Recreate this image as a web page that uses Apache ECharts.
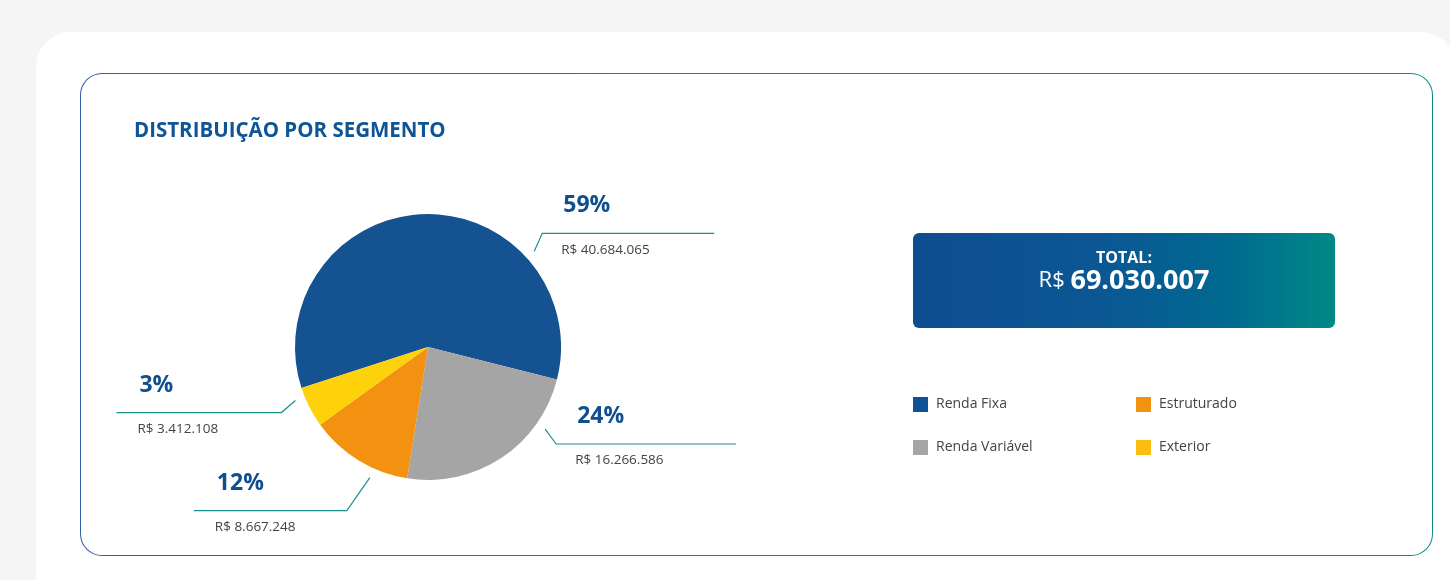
<!DOCTYPE html>
<html lang="pt-BR">
<head>
<meta charset="utf-8">
<title>Distribuição por segmento</title>
<script src="https://cdn.jsdelivr.net/npm/echarts@6/dist/echarts.min.js"></script>
<style>
    html, body {
        margin: 0;
        padding: 0;
        background: #f5f5f5;
        width: 1450px;
        height: 580px;
        overflow: hidden;
    }
    .card {
        position: absolute;
        left: 36px;
        top: 32px;
        width: 1420px;
        height: 600px;
        background: #fff;
        border-radius: 35px;
    }
    .frame {
        position: absolute;
        left: 80px;
        top: 73px;
        width: 1351px;
        height: 481px;
        border: 1.3px solid transparent;
        border-radius: 22px;
        background: linear-gradient(#fff, #fff) padding-box,
                    linear-gradient(90deg, #2f62a4, #1f7d9a 50%, #13898a) border-box;
    }
    #chart {
        position: absolute;
        left: 0;
        top: 0;
        width: 1450px;
        height: 580px;
    }
</style>
</head>
<body>
<div class="card"></div>
<div class="frame"></div>
<div id="chart"></div>

<script>
// dados (R$)
const segmentos = ["Renda Fixa", "Renda Variável", "Estruturado", "Exterior"];
const valores = [40684065, 16266586, 8667248, 3412108];
const percentuais = ["59%", "24%", "12%", "3%"];

const cores = ["#145291", "#a5a5a5", "#f39210", "#fdd20a"];
const coresLegenda = ["#0f5196", "#a5a5a5", "#f39210", "#fbbe10"];

// geometria da pizza e das chamadas
const centro = [428, 347];
const raio = 133;
const chamadas = [
    { angulo: 42, dobra: [8, -18], comp: 172 },
    { angulo: -35, dobra: [11, 15], comp: 180 },
    { angulo: -114, dobra: [-23, 33], comp: 153 },
    { angulo: 202, dobra: [-14, 12], comp: 165 }
];

function formatar(n) {
    return String(n).replace(/\B(?=(\d{3})+(?!\d))/g, ".");
}

const total = valores.reduce((a, b) => a + b, 0);

const estiloLegenda = { fontFamily: "Open Sans", fontSize: 14, color: "#444", padding: [0, 0, 0, 3] };

let chart = echarts.init(document.getElementById("chart"));

chart.setOption({
    animation: false,
    title: {
        text: "DISTRIBUIÇÃO POR SEGMENTO",
        left: 129,
        top: 116,
        textStyle: {
            fontFamily: "Open Sans",
            fontWeight: "bold",
            fontSize: 20.5,
            color: "#0f5596"
        }
    },
    legend: [
        {
            orient: "vertical",
            left: 908,
            top: 392,
            itemWidth: 15,
            itemHeight: 15,
            itemGap: 28,
            icon: "rect",
            selectedMode: false,
            textStyle: estiloLegenda,
            data: [0, 1].map(i => ({ name: segmentos[i], itemStyle: { color: coresLegenda[i] } }))
        },
        {
            orient: "vertical",
            left: 1131,
            top: 392,
            itemWidth: 15,
            itemHeight: 15,
            itemGap: 28,
            icon: "rect",
            selectedMode: false,
            textStyle: estiloLegenda,
            data: [2, 3].map(i => ({ name: segmentos[i], itemStyle: { color: coresLegenda[i] } }))
        }
    ],
    graphic: [
        {
            type: "rect",
            shape: { x: 913, y: 233, width: 422, height: 95, r: 6 },
            style: {
                fill: new echarts.graphic.LinearGradient(0, 0, 1, 0, [
                    { offset: 0, color: "#0e4d90" },
                    { offset: 0.45, color: "#0b5794" },
                    { offset: 0.75, color: "#006a90" },
                    { offset: 1, color: "#008a86" }
                ])
            }
        },
        {
            type: "text",
            x: 1124,
            y: 258,
            style: {
                text: "TOTAL:",
                fill: "#fff",
                fontFamily: "Open Sans",
                fontWeight: "bold",
                fontSize: 16,
                align: "center",
                verticalAlign: "middle"
            }
        },
        {
            type: "text",
            x: 1124,
            y: 281,
            style: {
                text: "{a|R$ }{b|" + formatar(total) + "}",
                fill: "#fff",
                align: "center",
                verticalAlign: "middle",
                rich: {
                    a: { fontFamily: "Open Sans", fontSize: 22, color: "#fff" },
                    b: { fontFamily: "Open Sans", fontWeight: "bold", fontSize: 27, color: "#fff" }
                }
            }
        }
    ],
    series: [
        {
            name: "Segmento",
            type: "pie",
            center: centro,
            radius: raio,
            startAngle: 198,
            clockwise: true,
            avoidLabelOverlap: false,
            silent: true,
            color: cores,
            itemStyle: { borderWidth: 0 },
            label: {
                show: true,
                position: "outside",
                alignTo: "none",
                formatter: p => "{p|" + percentuais[p.dataIndex] + "}\n{v|R$ " + formatar(p.value) + "}",
                rich: {
                    p: { fontFamily: "Open Sans", fontWeight: "bold", fontSize: 23, color: "#0f4f90", lineHeight: 33, padding: [0, 0, 0, 2] },
                    v: { fontFamily: "Open Sans", fontSize: 13.5, color: "#444", lineHeight: 55 }
                }
            },
            labelLine: {
                show: true,
                lineStyle: { color: "#1a9090", width: 1.2 }
            },
            // chamadas desenhadas como no original: traço curto e linha horizontal
            labelLayout: function (params) {
                const c = chamadas[params.dataIndex];
                const a = c.angulo * Math.PI / 180;
                const ini = [centro[0] + (raio + 10) * Math.cos(a), centro[1] - (raio + 10) * Math.sin(a)];
                const dobra = [ini[0] + c.dobra[0], ini[1] + c.dobra[1]];
                const direita = c.dobra[0] > 0;
                const fim = [dobra[0] + (direita ? c.comp : -c.comp), dobra[1]];
                return {
                    x: direita ? dobra[0] + 19 : fim[0] + 21,
                    y: dobra[1],
                    align: "left",
                    verticalAlign: "middle",
                    labelLinePoints: [ini, dobra, fim]
                };
            },
            data: segmentos.map((s, i) => ({ name: s, value: valores[i] }))
        }
    ]
});
</script>
</body>
</html>
